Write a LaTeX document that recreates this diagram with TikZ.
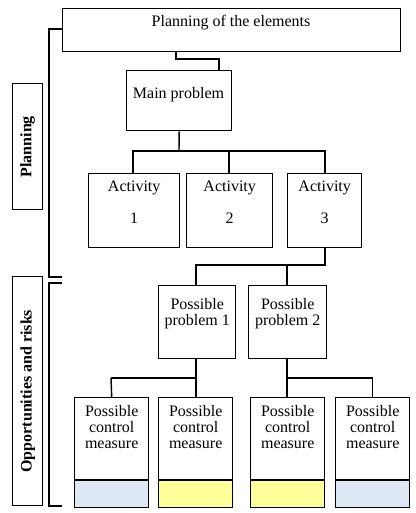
\documentclass[tikz,border=0pt]{standalone}
\usepackage{fontspec}
\setmainfont{Liberation Serif}
\definecolor{lblue}{HTML}{DEE8F4}
\definecolor{lyel}{HTML}{FFFF99}
\begin{document}
\begin{tikzpicture}[x=1pt,y=-1pt,
  bx/.style={draw,line width=1.4pt,inner sep=0pt},
  ln/.style={line width=1.4pt},
  txt/.style={font=\fontsize{16}{18}\selectfont,align=center,inner sep=0pt}]
\useasboundingbox (0,0) rectangle (415,513);
% boxes
\node[bx,minimum width=338,minimum height=43,anchor=north west] (top) at (62,8) {};
\node[txt] at (231,23) {Planning of the elements};
\node[bx,minimum width=105,minimum height=60,anchor=north west] (main) at (126,70) {};
\node[txt] at (178.5,95) {Main problem};
\foreach \n/\x/\w/\d in {a1/88/91/1,a2/186/86/2,a3/287/74/3}{
  \node[bx,minimum width=\w,minimum height=74,anchor=north west] (\n) at (\x,173) {};
  \node[txt] at ([yshift=-15]\n.north) {Activity};
  \node[txt] at ([yshift=-45]\n.north) {\d};
}
\node[bx,minimum width=77,minimum height=73,anchor=north west] (p1) at (158,285) {};
\node[txt] at ([yshift=9]p1.center) {Possible\\[-2pt]problem 1};
\node[bx,minimum width=78,minimum height=73,anchor=north west] (p2) at (248,285) {};
\node[txt] at ([yshift=9]p2.center) {Possible\\[-2pt]problem 2};
\foreach \n/\x/\c in {m1/74/lblue,m2/158/lyel,m3/250/lyel,m4/335/lblue}{
  \fill[\c] (\x,480) rectangle (\x+74,507);
  \node[bx,minimum width=74,minimum height=110,anchor=north west] (\n) at (\x,397) {};
  \draw[ln] (\x,480) -- (\x+74,480);
  \node[txt,anchor=north] at ([yshift=-8]\n.north) {Possible\\[-2pt]control\\[-2pt]measure};
}
% side labels
\node[bx,minimum width=30,minimum height=126,anchor=north west] (pl) at (12,83) {};
\node[txt,font=\fontsize{16}{18}\selectfont\bfseries,rotate=90] at (pl.center) {Planning};
\node[bx,minimum width=30,minimum height=229,anchor=north west] (op) at (12,276) {};
\node[txt,font=\fontsize{16}{18}\selectfont\bfseries,rotate=90] at (op.center) {Opportunities and risks};
% brackets
\draw[ln] (62,29) -- (49,29) -- (49,277) -- (62,277);
\draw[ln] (62,283) -- (49,283) -- (49,506) -- (62,506);
% connectors
\draw[ln] (top.south -| 176,0) |- (219,59) -- (main.north -| 219,0);
\draw[ln] (main.south) -- (179,151);
\draw[ln] (a1.north -| 133,0) |- (325,151) -- (a3.north -| 325,0);
\draw[ln] (a2.north -| 229,0) -- (229,151);
\draw[ln] (a3.south -| 325,0) |- (196,265) -- (p1.north -| 196,0);
\draw[ln] (287,265) -- (p2.north -| 287,0);
\draw[ln] (p1.south -| 196,0) -- (m2.north -| 196,0);
\draw[ln] (111,378) -- (196,378);
\draw[ln] (m1.north) -- (111,378);
\draw[ln] (p2.south -| 287,0) -- (m3.north -| 287,0);
\draw[ln] (287,378) -| (m4.north);
\end{tikzpicture}
\end{document}
